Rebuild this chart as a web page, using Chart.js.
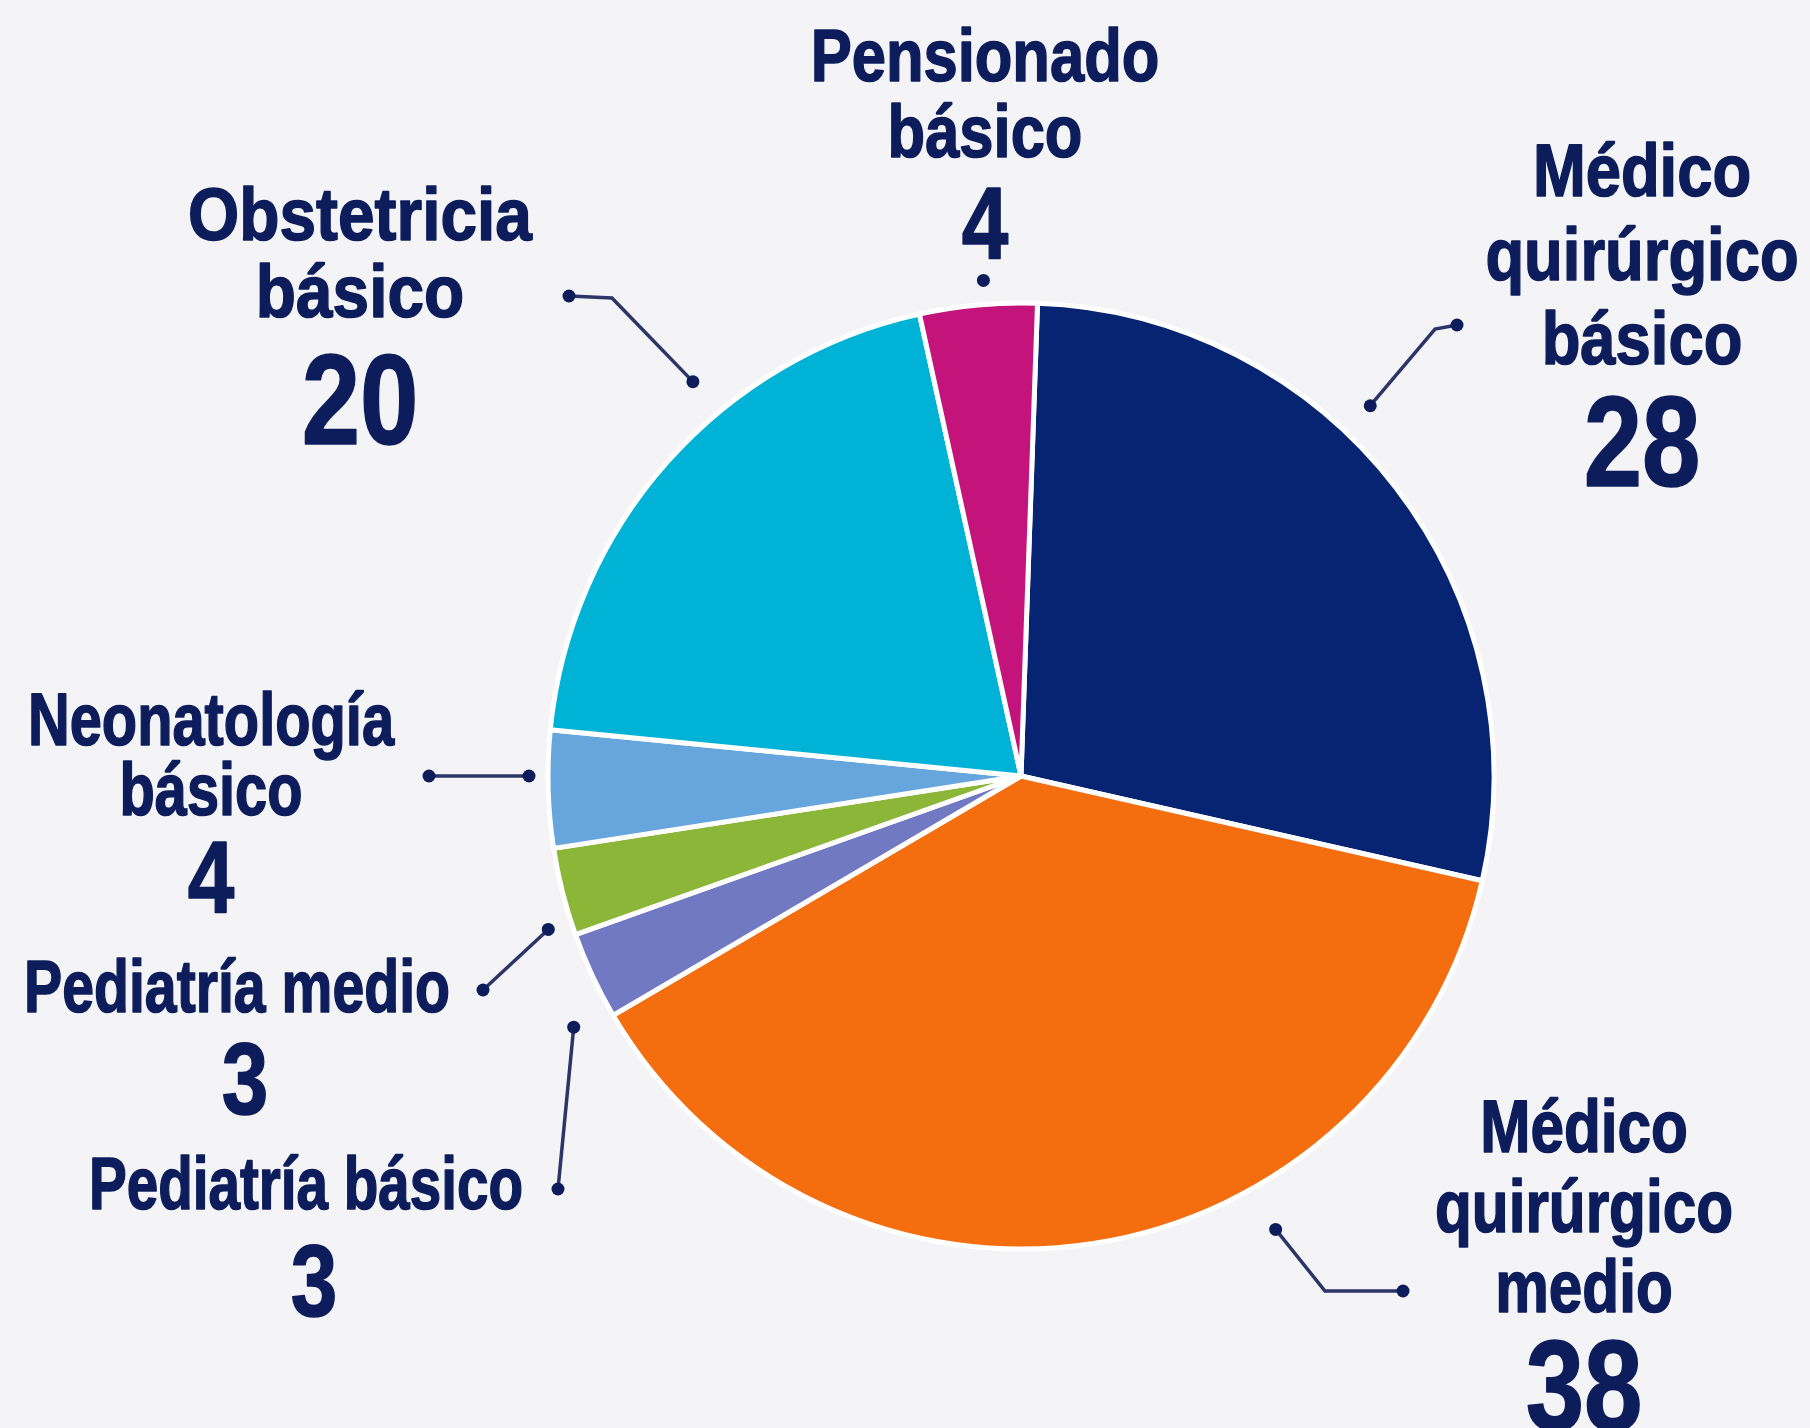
<!DOCTYPE html>
<html>
<head>
<meta charset="utf-8">
<script src="https://cdn.jsdelivr.net/npm/chart.js@4.4.1/dist/chart.umd.min.js"></script>
<style>
  html, body { margin: 0; padding: 0; background: #f4f4f6; }
  #wrap { width: 1810px; height: 1428px; position: relative; }
</style>
</head>
<body>
<div id="wrap"><canvas id="pie-chart"></canvas></div>
<script>
// categorias (cada linea del rotulo) y valores
const categories = [
  ["Médico", "quirúrgico", "básico"],
  ["Médico", "quirúrgico", "medio"],
  ["Pediatría básico"],
  ["Pediatría medio"],
  ["Neonatología", "básico"],
  ["Obstetricia", "básico"],
  ["Pensionado", "básico"],
];
const counts = [28, 38, 3, 3, 4, 20, 4];

const sliceColors = ["#062471", "#f46e10", "#7279c3", "#8bb637", "#67a6dc", "#00b3d6", "#c4137b"];
const textColor = "#0d1d5c";
const lineColor = "#2c3568";

// posicion de los rotulos y de las lineas guia
const labelLayout = [
  { x: 1642, y: 196, gap: 84, numY: 486, sx: 1.03, guide: [[1457, 325], [1435, 329]], at: 0.41, out: 36 },
  { x: 1584, y: 1152, gap: 80, numY: 1430, sx: 0.98, guide: [[1403, 1291], [1325, 1291]], at: 0.35, out: 47 },
  { x: 306, y: 1209, gap: 80, numY: 1316, sx: 0.92, guide: [[558, 1189]], at: 0.1, out: 40 },
  { x: 237, y: 1012, gap: 80, numY: 1114, sx: 0.93, guide: [[483, 990]], at: 0.15, out: 24 },
  { x: 211, y: 745, gap: 70, numY: 912, sx: 0.94, guide: [[429, 776]], at: 0.611, out: 19 },
  { x: 360, y: 240, gap: 77, numY: 444, sx: 1.07, guide: [[569, 296], [612, 298]], at: 0.62, out: 40 },
  { x: 985, y: 81, gap: 76, numY: 258, sx: 1.0, guide: [], at: 0.56, out: 24 },
];

function hasFont(name) {
  const c = document.createElement("canvas").getContext("2d");
  c.font = "bold 40px monospace";
  const w0 = c.measureText("Pensionado básico").width;
  c.font = "bold 40px '" + name + "', monospace";
  return c.measureText("Pensionado básico").width !== w0;
}
const narrow = hasFont("Liberation Sans Narrow");

function drawText(ctx, str, x, y, size, sx) {
  ctx.save();
  ctx.translate(x, y);
  if (narrow) {
    ctx.font = "bold " + size + "px 'Liberation Sans Narrow'";
    ctx.scale(sx, 1);
  } else {
    ctx.font = "bold " + size + "px 'Liberation Sans', Arial, sans-serif";
    ctx.scale(0.82 * sx, 1);
  }
  ctx.textAlign = "center";
  ctx.textBaseline = "alphabetic";
  ctx.fillStyle = textColor;
  ctx.strokeStyle = textColor;
  ctx.lineWidth = 1.6;
  ctx.lineJoin = "round";
  ctx.fillText(str, 0, 0);
  ctx.strokeText(str, 0, 0);
  ctx.restore();
}

function dot(ctx, x, y) {
  ctx.beginPath();
  ctx.arc(x, y, 6.5, 0, Math.PI * 2);
  ctx.fillStyle = textColor;
  ctx.fill();
}

//rotulos con linea guia
const calloutPlugin = {
  id: "callouts",
  afterDatasetsDraw(chart) {
    const ctx = chart.ctx;
    const arcs = chart.getDatasetMeta(0).data;
    arcs.forEach((arc, i) => {
      const lay = labelLayout[i];
      const p = arc.getProps(["x", "y", "startAngle", "endAngle", "outerRadius"], true);
      const a = p.startAngle + (p.endAngle - p.startAngle) * lay.at;
      const r = p.outerRadius + lay.out;
      const pts = lay.guide.concat([[p.x + Math.cos(a) * r, p.y + Math.sin(a) * r]]);

      ctx.save();
      if (pts.length > 1) {
        ctx.beginPath();
        ctx.moveTo(pts[0][0], pts[0][1]);
        pts.slice(1).forEach(q => ctx.lineTo(q[0], q[1]));
        ctx.strokeStyle = lineColor;
        ctx.lineWidth = 3.5;
        ctx.stroke();
        dot(ctx, pts[0][0], pts[0][1]);
      }
      const end = pts[pts.length - 1];
      dot(ctx, end[0], end[1]);

      const lines = chart.data.labels[i];
      lines.forEach((t, k) => drawText(ctx, t, lay.x, lay.y + k * lay.gap, 75, lay.sx));
      const v = chart.data.datasets[0].data[i];
      drawText(ctx, String(v), lay.x + (lines.length === 1 ? 8 : 0), lay.numY, v >= 10 ? 128 : 102, 1);
      ctx.restore();
    });
  },
};

const ctx = document.getElementById("pie-chart").getContext("2d");

const pieChart = new Chart(ctx, {
  type: "pie",
  data: {
    labels: categories,
    datasets: [
      {
        data: counts,
        backgroundColor: sliceColors,
        borderColor: "#ffffff",
        borderWidth: 5,
        hoverOffset: 0,
      },
    ],
  },
  options: {
    responsive: true,
    maintainAspectRatio: false,
    animation: false,
    rotation: 2,
    radius: 473,
    layout: {
      padding: { top: 302, bottom: 178, left: 302, right: 70 },
    },
    plugins: {
      legend: { display: false },
      tooltip: { enabled: false },
    },
  },
  plugins: [calloutPlugin],
});
</script>
</body>
</html>
